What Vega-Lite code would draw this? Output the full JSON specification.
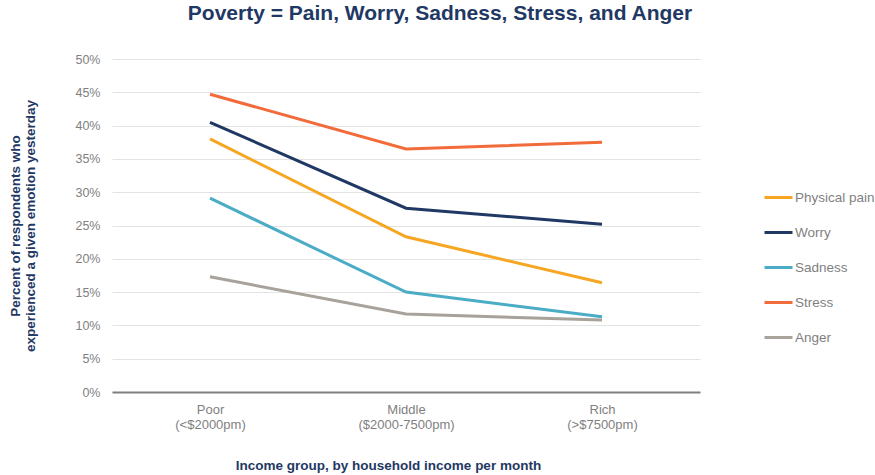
{
  "$schema": "https://vega.github.io/schema/vega-lite/v6.json",
  "autosize": "none",
  "width": 588,
  "height": 333,
  "padding": {"left": 112, "top": 59, "right": 175, "bottom": 83},
  "background": "white",
  "config": {
    "font": "Liberation Sans",
    "view": {"stroke": null}
  },
  "title": {
    "text": "Poverty = Pain, Worry, Sadness, Stress, and Anger",
    "fontSize": 21,
    "fontWeight": "bold",
    "color": "#1F3864",
    "anchor": "middle",
    "dx": 34,
    "offset": 29
  },
  "data": {
    "values": [
      {"group": "Poor", "emotion": "Physical pain", "pct": 0.380},
      {"group": "Middle", "emotion": "Physical pain", "pct": 0.233},
      {"group": "Rich", "emotion": "Physical pain", "pct": 0.164},
      {"group": "Poor", "emotion": "Worry", "pct": 0.405},
      {"group": "Middle", "emotion": "Worry", "pct": 0.276},
      {"group": "Rich", "emotion": "Worry", "pct": 0.252},
      {"group": "Poor", "emotion": "Sadness", "pct": 0.291},
      {"group": "Middle", "emotion": "Sadness", "pct": 0.150},
      {"group": "Rich", "emotion": "Sadness", "pct": 0.113},
      {"group": "Poor", "emotion": "Stress", "pct": 0.447},
      {"group": "Middle", "emotion": "Stress", "pct": 0.365},
      {"group": "Rich", "emotion": "Stress", "pct": 0.375},
      {"group": "Poor", "emotion": "Anger", "pct": 0.173},
      {"group": "Middle", "emotion": "Anger", "pct": 0.117},
      {"group": "Rich", "emotion": "Anger", "pct": 0.108}
    ]
  },
  "mark": {"type": "line", "strokeWidth": 3},
  "encoding": {
    "x": {
      "field": "group",
      "type": "ordinal",
      "sort": ["Poor", "Middle", "Rich"],
      "scale": {"type": "point", "padding": 0.5},
      "axis": {
        "title": "Income group, by household income per month",
        "titleFontSize": 13.5,
        "titleFontWeight": "bold",
        "titleColor": "#1F3864",
        "titlePadding": 27,
        "titleX": 276,
        "labelAngle": 0,
        "labelFontSize": 13,
        "labelColor": "#7F7F7F",
        "labelPadding": 11,
        "labelLineHeight": 15,
        "labelExpr": "datum.label == 'Poor' ? ['Poor', '(<$2000pm)'] : datum.label == 'Middle' ? ['Middle', '($2000-7500pm)'] : ['Rich', '(>$7500pm)']",
        "ticks": false,
        "domain": true,
        "domainColor": "#7F7F7F",
        "domainWidth": 2,
        "grid": false
      }
    },
    "y": {
      "field": "pct",
      "type": "quantitative",
      "scale": {"domain": [0, 0.5]},
      "axis": {
        "title": ["Percent of respondents who", "experienced  a given emotion yesterday"],
        "titleFontSize": 13.5,
        "titleFontWeight": "bold",
        "titleColor": "#1F3864",
        "titleLineHeight": 15,
        "titlePadding": 37,
        "format": ".0%",
        "values": [0, 0.05, 0.1, 0.15, 0.2, 0.25, 0.3, 0.35, 0.4, 0.45, 0.5],
        "labelFontSize": 12.5,
        "labelColor": "#7F7F7F",
        "labelPadding": 12,
        "ticks": false,
        "domain": false,
        "grid": true,
        "gridColor": "#E3E3E3",
        "gridWidth": 1
      }
    },
    "color": {
      "field": "emotion",
      "type": "nominal",
      "sort": ["Physical pain", "Worry", "Sadness", "Stress", "Anger"],
      "scale": {
        "domain": ["Physical pain", "Worry", "Sadness", "Stress", "Anger"],
        "range": ["#F7A623", "#1F3864", "#4BACC6", "#F26B3A", "#A8A29B"]
      },
      "legend": {
        "title": null,
        "orient": "none",
        "legendX": 651,
        "legendY": 123,
        "symbolType": "stroke",
        "symbolSize": 784,
        "symbolStrokeWidth": 3,
        "labelFontSize": 13.5,
        "labelColor": "#7F7F7F",
        "labelOffset": 1,
        "rowPadding": 13
      }
    }
  }
}
